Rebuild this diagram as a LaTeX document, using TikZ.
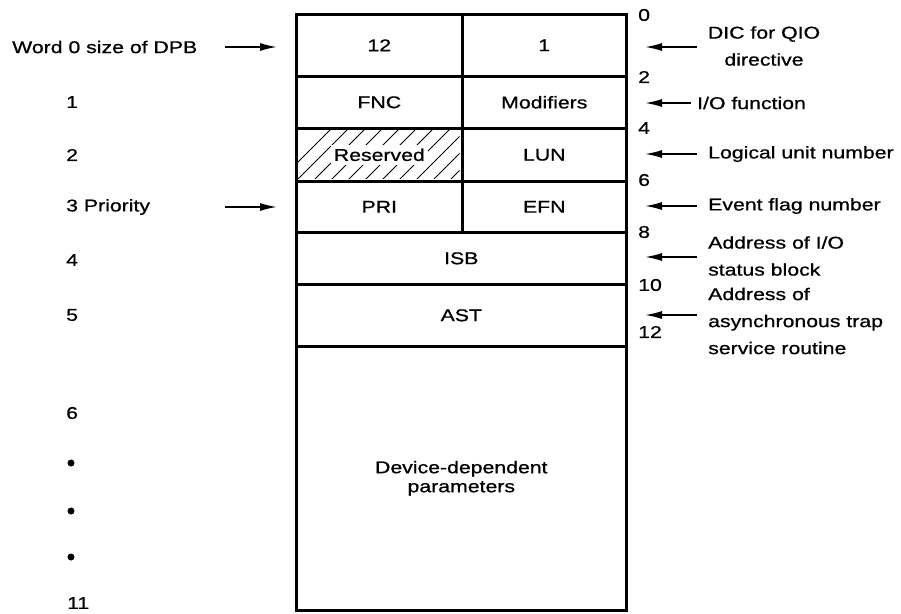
\documentclass[tikz,border=0pt]{standalone}
\usepackage{fontspec}
\setmainfont{Liberation Sans}[FakeStretch=1.25, FakeBold=0.8]
\usetikzlibrary{arrows.meta}
\begin{document}
\begin{tikzpicture}[x=1pt,y=-1pt,
  every node/.style={font=\fontsize{17}{27}\selectfont, inner sep=0pt},
  cell/.style={draw=black, line width=2.6pt, rectangle, anchor=north west},
  lbl/.style={anchor=west},
  rarrow/.style={line width=1.6pt, -{Latex[length=17pt,width=8pt]}},
  hatch/.style={line width=1pt}
]
\useasboundingbox (0,0) rectangle (901,613);
% cells
\node[cell, minimum width=166pt, minimum height=62pt] (c0l) at (295,13) {};
\node[cell, minimum width=164pt, minimum height=62pt] (c0r) at (461,13) {};
\node[cell, minimum width=166pt, minimum height=52pt] (c1l) at (295,75) {};
\node[cell, minimum width=164pt, minimum height=52pt] (c1r) at (461,75) {};
\node[cell, minimum width=166pt, minimum height=53pt] (c2l) at (295,127) {};
\node[cell, minimum width=164pt, minimum height=53pt] (c2r) at (461,127) {};
\node[cell, minimum width=166pt, minimum height=51pt] (c3l) at (295,180) {};
\node[cell, minimum width=164pt, minimum height=51pt] (c3r) at (461,180) {};
\node[cell, minimum width=330pt, minimum height=52pt] (c4) at (295,231) {};
\node[cell, minimum width=330pt, minimum height=62pt] (c5) at (295,283) {};
\node[cell, minimum width=330pt, minimum height=264pt] (c6) at (295,345) {};
% hatching of reserved cell
\begin{scope}
  \clip (296.5,128.5) rectangle (459.5,178.5);
  \foreach \i in {0,...,13} {
    \draw[hatch] (280+\i*17,180) -- (333+\i*17,127);
  }
\end{scope}
% cell texts
\node at (c0l.center) {12};
\node at (c0r.center) {1};
\node at (c1l.center) {FNC};
\node at (c1r.center) {Modifiers};
\node[fill=white, inner xsep=3pt, inner ysep=4pt] (res) at (c2l.center) {Reserved};
\node at (c2r.center) {LUN};
\node at (c3l.center) {PRI};
\node at (c3r.center) {EFN};
\node at (c4.center) {ISB};
\node at (c5.center) {AST};
\node[align=center, font=\fontsize{17}{19}\selectfont] at (c6.center) {Device-dependent\\parameters};
% byte offsets on right
\node[lbl] (o0) at (638,15) {0};
\node[lbl] (o2) at (638,77) {2};
\node[lbl] (o4) at (638,128) {4};
\node[lbl] (o6) at (638,180) {6};
\node[lbl] (o8) at (638,232) {8};
\node[lbl] (o10) at (638,285) {10};
\node[lbl] (o12) at (638,332) {12};
% right descriptions
\node[align=center] (d0) at (764,46) {DIC for QIO\\directive};
\node[lbl] (d1) at (697,103) {I/O function};
\node[lbl] (d2) at (708,154) {Logical unit number};
\node[lbl] (d3) at (708,206) {Event flag number};
\node[lbl, align=left] (d4) at (708,256) {Address of I/O\\status block};
\node[lbl, align=left] (d5) at (708,321) {Address of\\asynchronous trap\\service routine};
% right arrows
\coordinate (ra0) at (697,47); \coordinate (rb0) at (645,47);
\coordinate (ra1) at (691,103); \coordinate (rb1) at (645,103);
\coordinate (ra2) at (697,154); \coordinate (rb2) at (645,154);
\coordinate (ra3) at (697,206); \coordinate (rb3) at (645,206);
\coordinate (ra4) at (697,257); \coordinate (rb4) at (645,257);
\coordinate (ra5) at (697,315); \coordinate (rb5) at (645,315);
\foreach \k in {0,...,5} { \draw[rarrow] (ra\k) -- (rb\k); }
% left labels
\node[anchor=west] (w0) at (12,47) {Word 0 size of DPB};
\node[lbl] (w1) at (66,102) {1};
\node[lbl] (w2) at (66,155) {2};
\node[lbl] (w3) at (66,207) {3 Priority};
\node[lbl] (w4) at (66,260) {4};
\node[lbl] (w5) at (66,315) {5};
\node[lbl] (w6) at (66,413) {6};
\node[circle, fill=black, minimum size=7pt] (dt1) at (71,463) {};
\node[circle, fill=black, minimum size=7pt] (dt2) at (71,511) {};
\node[circle, fill=black, minimum size=7pt] (dt3) at (71,557) {};
\node[lbl] (w11) at (67,603) {11};
% left arrows
\coordinate (la0) at (225,47); \coordinate (lb0) at (277,47);
\coordinate (la3) at (225,207); \coordinate (lb3) at (277,207);
\draw[rarrow] (la0) -- (lb0);
\draw[rarrow] (la3) -- (lb3);
\end{tikzpicture}
\end{document}
